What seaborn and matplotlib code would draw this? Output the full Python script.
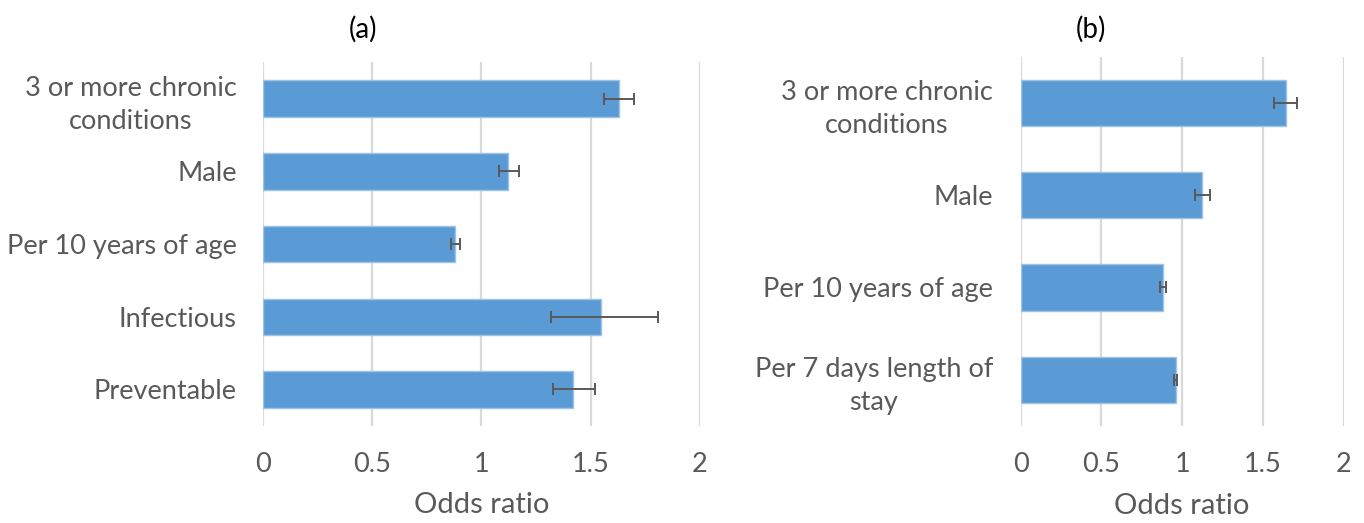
import matplotlib
matplotlib.use("Agg")
import matplotlib.pyplot as plt
import seaborn as sns
import pandas as pd

# Panel (a): readmission predictors
labels_a = ["3 or more chronic\nconditions", "Male", "Per 10 years of age",
            "Infectious", "Preventable"]
or_a = [1.63, 1.12, 0.88, 1.55, 1.42]
lo_a = [1.56, 1.08, 0.86, 1.32, 1.33]
hi_a = [1.70, 1.17, 0.90, 1.81, 1.52]

# Panel (b): predictors including length of stay
labels_b = ["3 or more chronic\nconditions", "Male", "Per 10 years of age",
            "Per 7 days length of\nstay"]
or_b = [1.64, 1.12, 0.88, 0.96]
lo_b = [1.57, 1.08, 0.86, 0.95]
hi_b = [1.71, 1.17, 0.90, 0.97]

x_ticks = [0, 0.5, 1, 1.5, 2]
x_ticklabels = ["0", "0.5", "1", "1.5", "2"]

sns.set_theme(style="white")
plt.rcParams["font.family"] = ["Lato", "DejaVu Sans"]

BAR = "#5b9bd5"
EDGE = "#9dc3e6"
TXT = "#595959"
GRID = "#d9d9d9"

fig = plt.figure(figsize=(13.64, 5.23), dpi=100)
ax_a = fig.add_axes([0.1930, 0.1859, 0.3199, 0.6950])
ax_b = fig.add_axes([0.7483, 0.1857, 0.2368, 0.7059])


def draw(ax, labels, vals, lo, hi, ypad):
    df = pd.DataFrame({"label": labels, "or": vals})
    ax.set_axisbelow(True)
    for x in x_ticks:
        ax.axvline(x, color=GRID, lw=1.6, zorder=0)
    sns.barplot(data=df, x="or", y="label", orient="h", color=BAR,
                width=0.5, edgecolor=EDGE, linewidth=1.0, saturation=1,
                ax=ax, zorder=2)
    ypos = list(range(len(labels)))
    ax.errorbar(vals, ypos,
                xerr=[[v - l for v, l in zip(vals, lo)],
                      [h - v for v, h in zip(vals, hi)]],
                fmt="none", ecolor=TXT, elinewidth=1.4, capsize=4.3,
                capthick=1.4, zorder=3)
    ax.set_xlim(0, 2.0)
    ax.set_ylim(len(labels) - 0.5, -0.5)
    ax.set_xticks(x_ticks)
    ax.set_xticklabels(x_ticklabels)
    ax.set_yticks(ypos)
    ax.set_yticklabels(labels)
    for t in ax.get_yticklabels():
        t.set_multialignment("center")
        t.set_linespacing(1.4)
    ax.tick_params(axis="both", length=0, labelsize=19.5, colors=TXT)
    ax.tick_params(axis="x", pad=19)
    ax.tick_params(axis="y", pad=ypad)
    ax.set_ylabel("")
    ax.set_xlabel("Odds ratio", fontsize=21, color=TXT, labelpad=11)
    for s in ax.spines.values():
        s.set_visible(False)


draw(ax_a, labels_a, or_a, lo_a, hi_a, 19)
draw(ax_b, labels_b, or_b, lo_b, hi_b, 20)

fig.text(363 / 1364, 1 - 29 / 523, "(a)", ha="center", va="center",
         fontsize=20, color="black")
fig.text(1091 / 1364, 1 - 29 / 523, "(b)", ha="center", va="center",
         fontsize=20, color="black")

fig.savefig("out.png", dpi=100, facecolor="white")
